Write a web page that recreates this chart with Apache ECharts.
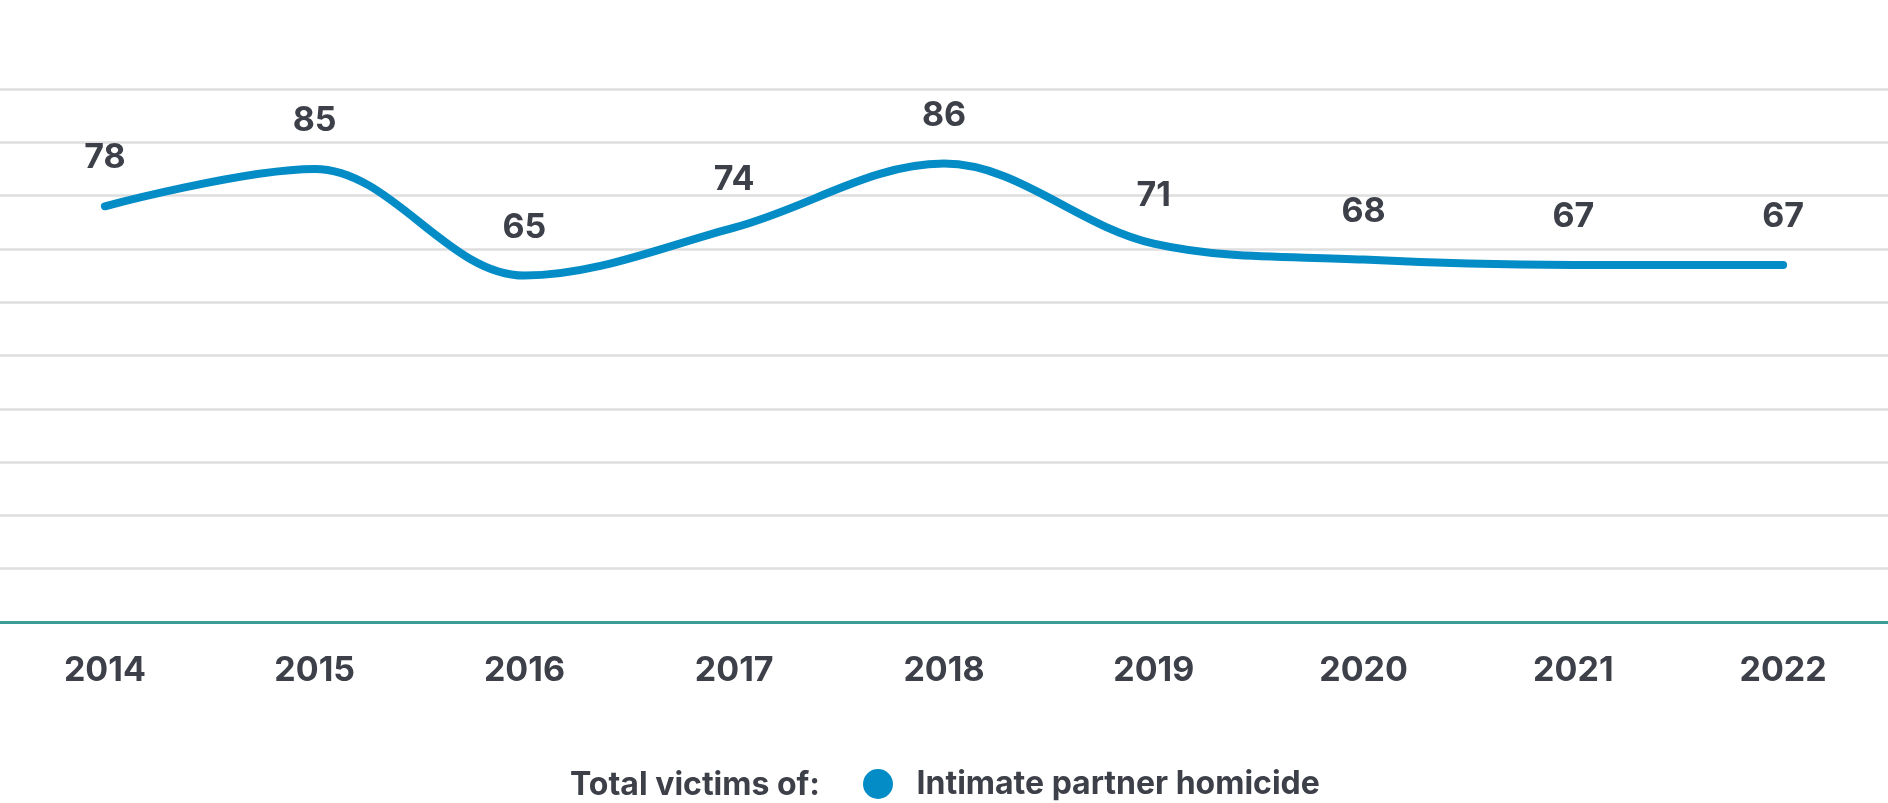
<!DOCTYPE html>
<html>
<head>
<meta charset="utf-8">
<script src="https://cdn.jsdelivr.net/npm/echarts@6/dist/echarts.min.js"></script>
<style>
html,body{margin:0;padding:0;background:#fff;}
#chart{width:1888px;height:803px;}
</style>
</head>
<body>
<div id="chart"></div>
<script>
const years = ['2014','2015','2016','2017','2018','2019','2020','2021','2022'];
const victims = [78, 85, 65, 74, 86, 71, 68, 67, 67];
const seriesName = 'Intimate partner homicide';
const legendPrefix = 'Total victims of:';

const FONT = 'Inter, "Noto Sans", sans-serif';
const TEXT = '#3d4048';
const BLUE = '#048cc6';
const chart = echarts.init(document.getElementById('chart'));
chart.setOption({
  animation: false,
  backgroundColor: '#ffffff',
  grid: { left: 0, right: 0, top: 89, bottom: 181, containLabel: false },
  xAxis: {
    type: 'category',
    data: years,
    boundaryGap: true,
    axisLine: { show: true, lineStyle: { color: '#3a9e96', width: 3 } },
    axisTick: { show: false },
    axisLabel: { margin: 32, color: TEXT, fontFamily: FONT, fontWeight: 'bold', fontSize: 34 }
  },
  yAxis: {
    type: 'value',
    min: 0, max: 100, interval: 10,
    axisLabel: { show: false },
    axisLine: { show: false },
    axisTick: { show: false },
    splitLine: { lineStyle: { color: '#dedede', width: 2.5 } }
  },
  legend: {
    data: [seriesName],
    left: 858, top: 763,
    icon: 'circle',
    itemWidth: 67, itemHeight: 30, itemGap: 10,
    itemStyle: { color: BLUE, opacity: 1 },
    textStyle: { color: TEXT, fontFamily: FONT, fontWeight: 'bold', fontSize: 32 }
  },
  graphic: [{
    type: 'text', left: 570, top: 769,
    style: { text: legendPrefix, fill: TEXT, font: 'bold 32px ' + FONT }
  }],
  series: [{
    name: seriesName,
    type: 'line',
    data: victims,
    smooth: 0.35,
    showSymbol: true,
    symbol: 'circle',
    symbolSize: 2,
    itemStyle: { color: BLUE },
    lineStyle: { color: BLUE, width: 8, cap: 'round' },
    label: {
      show: true, position: 'top', distance: 30,
      color: TEXT, fontFamily: FONT, fontWeight: 'bold', fontSize: 34
    }
  }]
});
</script>
</body>
</html>
